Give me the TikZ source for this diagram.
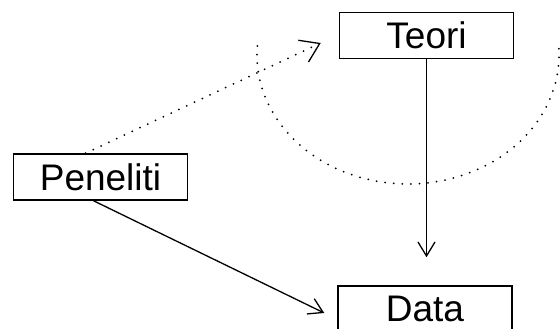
\documentclass[tikz,border=0pt]{standalone}
\usepackage{fontspec}
\setmainfont{Liberation Sans}
\usetikzlibrary{arrows.meta}

\tikzset{
  kotak/.style={draw, line width=1.5pt, minimum width=174pt, minimum height=46pt,
    inner sep=0pt, font=\fontsize{37}{40}\selectfont},
  panah/.style={line width=1.3pt, -{Straight Barb[length=14pt,width=17pt]}},
  titik/.style={line width=2pt, line cap=round, dash pattern=on 0pt off 8.6pt},
}

\begin{document}
\begin{tikzpicture}[x=1pt,y=1pt]
  \clip (0,0) rectangle (560,329);
  \node[kotak] (teori) at (426.5,293.5) {Teori};
  \node[kotak] (peneliti) at (100.5,152) {Peneliti};
  \node[kotak] (data) at (425,20) {Data};
  \coordinate (pusat) at (408,274);
  % panah utuh
  \draw[panah, shorten >=28pt] (teori.south) -- (teori.south |- data.north);
  \draw[panah] ([xshift=-7pt]peneliti.south) -- ([xshift=-13pt,yshift=-4pt]data.west);
  % garis titik-titik
  \draw[titik, -{Straight Barb[length=18pt,width=24pt,line width=1.3pt]}]
    ([xshift=-15pt]peneliti.north) -- ([xshift=-18pt,yshift=-7.5pt]teori.west);
  \draw[titik] (pusat) ++(176:151 and 129)
    arc[start angle=176, end angle=364, x radius=151, y radius=129];
\end{tikzpicture}
\end{document}
